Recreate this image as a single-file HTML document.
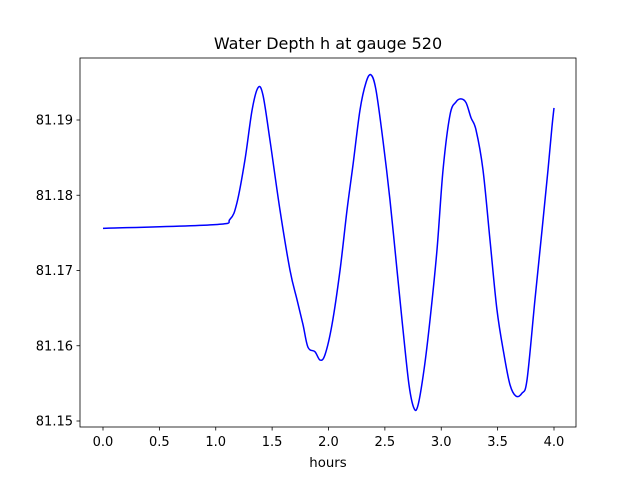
<!DOCTYPE html>
<html><head><meta charset="utf-8"><style>
body{margin:0;background:#fff;}
svg{display:block;font-family:"DejaVu Sans","Liberation Sans",sans-serif;}
</style></head><body>
<svg id="chart" width="640" height="480">
<rect width="640" height="480" fill="#fff"/>
<text x="328" y="49" font-size="16" text-anchor="middle">Water Depth h at gauge 520</text>
<text x="328" y="467" font-size="13.3" text-anchor="middle">hours</text>
<g id="ticks"></g>
<path id="line" fill="none" stroke="#0000ff" stroke-width="1.5" stroke-linejoin="round"/>
<rect x="80" y="58" width="496" height="369" fill="none" stroke="#000" stroke-width="0.8"/>
</svg>
<script>
const hours=[0,0.993,1.126,1.188,1.259,1.322,1.375,1.419,1.481,1.570,1.659,1.721,1.774,1.818,1.880,1.925,1.969,2.031,2.102,2.164,2.217,2.279,2.333,2.377,2.421,2.483,2.545,2.608,2.661,2.714,2.758,2.794,2.847,2.900,2.962,3.016,3.078,3.131,3.175,3.220,3.264,3.308,3.370,3.432,3.494,3.557,3.610,3.663,3.716,3.761,3.831,3.894,3.947,3.982,4.0];
const depth=[81.1756,81.1761,81.1768,81.1790,81.1847,81.1913,81.1943,81.1933,81.1873,81.1780,81.1700,81.1661,81.1628,81.1598,81.1592,81.1581,81.1588,81.1628,81.1700,81.1780,81.1840,81.1913,81.1950,81.1960,81.1940,81.1873,81.1794,81.1700,81.1621,81.1548,81.1517,81.1521,81.1568,81.1634,81.1727,81.1834,81.1907,81.1924,81.1928,81.1923,81.1903,81.1887,81.1834,81.1741,81.1648,81.1588,81.1548,81.1533,81.1537,81.1555,81.1661,81.1754,81.1834,81.1891,81.1916];
const xTicks=[0,0.5,1,1.5,2,2.5,3,3.5,4];
const xTickLabels=["0.0","0.5","1.0","1.5","2.0","2.5","3.0","3.5","4.0"];
const yTicks=[81.15,81.16,81.17,81.18,81.19];
const yTickLabels=["81.15","81.16","81.17","81.18","81.19"];

const xs=h=>103+h*112.75;
const ys=v=>421-(v-81.15)*7525;
const NS="http://www.w3.org/2000/svg";
const g=document.getElementById('ticks');
function mk(tag,attrs,parent){const e=document.createElementNS(NS,tag);for(const k in attrs)e.setAttribute(k,attrs[k]);parent.appendChild(e);return e;}
xTicks.forEach((t,i)=>{
  const x=xs(t);
  const l=mk('line',{x1:x,x2:x,y1:427,y2:430.5,stroke:'#000','stroke-width':0.8},g);
  
  
  const tx=mk('text',{x:x,y:446,'font-size':13,'text-anchor':'middle'},g);
  tx.textContent=xTickLabels[i];
  
  
});
yTicks.forEach((t,i)=>{
  const y=ys(t);
  const l=mk('line',{x1:76.5,x2:80,y1:y,y2:y,stroke:'#000','stroke-width':0.8},g);
  
  
  const tx=mk('text',{x:73,y:y+4.5,'font-size':13,'text-anchor':'end'},g);
  tx.textContent=yTickLabels[i];
  
  
});
const pts=hours.map((h,i)=>[xs(h),ys(depth[i])]);
let d='M'+pts[0][0]+','+pts[0][1];
for(let i=0;i<pts.length-1;i++){
  const p0=pts[Math.max(0,i-1)],p1=pts[i],p2=pts[i+1],p3=pts[Math.min(pts.length-1,i+2)];
  const c1=[p1[0]+(p2[0]-p0[0])/6,p1[1]+(p2[1]-p0[1])/6];
  const c2=[p2[0]-(p3[0]-p1[0])/6,p2[1]-(p3[1]-p1[1])/6];
  d+=' C'+c1[0]+','+c1[1]+' '+c2[0]+','+c2[1]+' '+p2[0]+','+p2[1];
}
document.getElementById('line').setAttribute('d',d);
</script>
</body></html>
